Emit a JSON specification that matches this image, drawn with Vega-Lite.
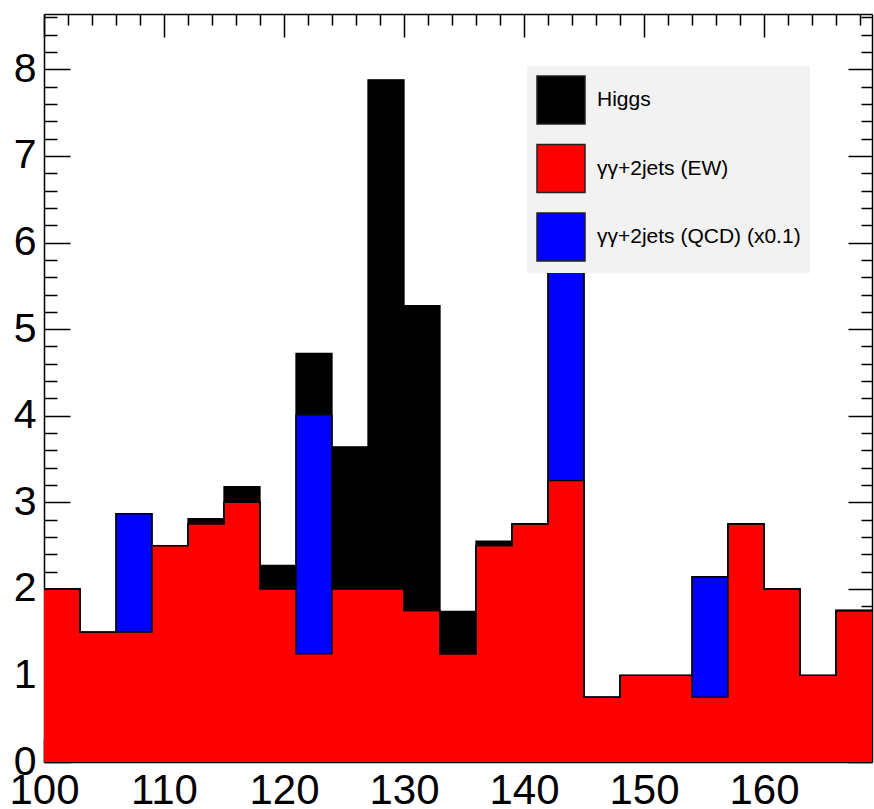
{
  "$schema": "https://vega.github.io/schema/vega-lite/v6.json",
  "width": 828,
  "height": 748,
  "autosize": {"type": "none"},
  "padding": {"left": 44, "top": 14, "right": 2, "bottom": 47},
  "background": "white",
  "config": {
    "view": {"stroke": null},
    "axis": {"title": null, "grid": false, "tickColor": "black", "tickWidth": 1.5, "domainColor": "black", "domainWidth": 1.5, "zindex": 1, "labelFont": "Liberation Sans", "labelFontSize": 41, "labelColor": "black", "labelFlush": false, "labelOverlap": false}
  },
  "data": {"values": [
    {"lo":100,"hi":103,"process":"γγ+2jets (EW)","layer":1,"n":2.0},
    {"lo":103,"hi":106,"process":"γγ+2jets (EW)","layer":1,"n":1.5},
    {"lo":106,"hi":109,"process":"γγ+2jets (EW)","layer":1,"n":1.5},
    {"lo":109,"hi":112,"process":"γγ+2jets (EW)","layer":1,"n":2.5},
    {"lo":112,"hi":115,"process":"γγ+2jets (EW)","layer":1,"n":2.75},
    {"lo":115,"hi":118,"process":"γγ+2jets (EW)","layer":1,"n":3.0},
    {"lo":118,"hi":121,"process":"γγ+2jets (EW)","layer":1,"n":2.0},
    {"lo":121,"hi":124,"process":"γγ+2jets (EW)","layer":1,"n":1.25},
    {"lo":124,"hi":127,"process":"γγ+2jets (EW)","layer":1,"n":2.0},
    {"lo":127,"hi":130,"process":"γγ+2jets (EW)","layer":1,"n":2.0},
    {"lo":130,"hi":133,"process":"γγ+2jets (EW)","layer":1,"n":1.75},
    {"lo":133,"hi":136,"process":"γγ+2jets (EW)","layer":1,"n":1.25},
    {"lo":136,"hi":139,"process":"γγ+2jets (EW)","layer":1,"n":2.5},
    {"lo":139,"hi":142,"process":"γγ+2jets (EW)","layer":1,"n":2.75},
    {"lo":142,"hi":145,"process":"γγ+2jets (EW)","layer":1,"n":3.25},
    {"lo":145,"hi":148,"process":"γγ+2jets (EW)","layer":1,"n":0.75},
    {"lo":148,"hi":151,"process":"γγ+2jets (EW)","layer":1,"n":1.0},
    {"lo":151,"hi":154,"process":"γγ+2jets (EW)","layer":1,"n":1.0},
    {"lo":154,"hi":157,"process":"γγ+2jets (EW)","layer":1,"n":0.75},
    {"lo":157,"hi":160,"process":"γγ+2jets (EW)","layer":1,"n":2.75},
    {"lo":160,"hi":163,"process":"γγ+2jets (EW)","layer":1,"n":2.0},
    {"lo":163,"hi":166,"process":"γγ+2jets (EW)","layer":1,"n":1.0},
    {"lo":166,"hi":169,"process":"γγ+2jets (EW)","layer":1,"n":1.75},
    {"lo":100,"hi":103,"process":"γγ+2jets (QCD) (x0.1)","layer":2,"n":0},
    {"lo":103,"hi":106,"process":"γγ+2jets (QCD) (x0.1)","layer":2,"n":0},
    {"lo":106,"hi":109,"process":"γγ+2jets (QCD) (x0.1)","layer":2,"n":1.37},
    {"lo":109,"hi":112,"process":"γγ+2jets (QCD) (x0.1)","layer":2,"n":0},
    {"lo":112,"hi":115,"process":"γγ+2jets (QCD) (x0.1)","layer":2,"n":0},
    {"lo":115,"hi":118,"process":"γγ+2jets (QCD) (x0.1)","layer":2,"n":0},
    {"lo":118,"hi":121,"process":"γγ+2jets (QCD) (x0.1)","layer":2,"n":0},
    {"lo":121,"hi":124,"process":"γγ+2jets (QCD) (x0.1)","layer":2,"n":2.76},
    {"lo":124,"hi":127,"process":"γγ+2jets (QCD) (x0.1)","layer":2,"n":0},
    {"lo":127,"hi":130,"process":"γγ+2jets (QCD) (x0.1)","layer":2,"n":0},
    {"lo":130,"hi":133,"process":"γγ+2jets (QCD) (x0.1)","layer":2,"n":0},
    {"lo":133,"hi":136,"process":"γγ+2jets (QCD) (x0.1)","layer":2,"n":0},
    {"lo":136,"hi":139,"process":"γγ+2jets (QCD) (x0.1)","layer":2,"n":0},
    {"lo":139,"hi":142,"process":"γγ+2jets (QCD) (x0.1)","layer":2,"n":0},
    {"lo":142,"hi":145,"process":"γγ+2jets (QCD) (x0.1)","layer":2,"n":4.1},
    {"lo":145,"hi":148,"process":"γγ+2jets (QCD) (x0.1)","layer":2,"n":0},
    {"lo":148,"hi":151,"process":"γγ+2jets (QCD) (x0.1)","layer":2,"n":0},
    {"lo":151,"hi":154,"process":"γγ+2jets (QCD) (x0.1)","layer":2,"n":0},
    {"lo":154,"hi":157,"process":"γγ+2jets (QCD) (x0.1)","layer":2,"n":1.39},
    {"lo":157,"hi":160,"process":"γγ+2jets (QCD) (x0.1)","layer":2,"n":0},
    {"lo":160,"hi":163,"process":"γγ+2jets (QCD) (x0.1)","layer":2,"n":0},
    {"lo":163,"hi":166,"process":"γγ+2jets (QCD) (x0.1)","layer":2,"n":0},
    {"lo":166,"hi":169,"process":"γγ+2jets (QCD) (x0.1)","layer":2,"n":0},
    {"lo":100,"hi":103,"process":"Higgs","layer":3,"n":0},
    {"lo":103,"hi":106,"process":"Higgs","layer":3,"n":0},
    {"lo":106,"hi":109,"process":"Higgs","layer":3,"n":0},
    {"lo":109,"hi":112,"process":"Higgs","layer":3,"n":0},
    {"lo":112,"hi":115,"process":"Higgs","layer":3,"n":0.06},
    {"lo":115,"hi":118,"process":"Higgs","layer":3,"n":0.18},
    {"lo":118,"hi":121,"process":"Higgs","layer":3,"n":0.27},
    {"lo":121,"hi":124,"process":"Higgs","layer":3,"n":0.71},
    {"lo":124,"hi":127,"process":"Higgs","layer":3,"n":1.64},
    {"lo":127,"hi":130,"process":"Higgs","layer":3,"n":5.88},
    {"lo":130,"hi":133,"process":"Higgs","layer":3,"n":3.52},
    {"lo":133,"hi":136,"process":"Higgs","layer":3,"n":0.49},
    {"lo":136,"hi":139,"process":"Higgs","layer":3,"n":0.05},
    {"lo":139,"hi":142,"process":"Higgs","layer":3,"n":0},
    {"lo":142,"hi":145,"process":"Higgs","layer":3,"n":0},
    {"lo":145,"hi":148,"process":"Higgs","layer":3,"n":0},
    {"lo":148,"hi":151,"process":"Higgs","layer":3,"n":0},
    {"lo":151,"hi":154,"process":"Higgs","layer":3,"n":0},
    {"lo":154,"hi":157,"process":"Higgs","layer":3,"n":0},
    {"lo":157,"hi":160,"process":"Higgs","layer":3,"n":0},
    {"lo":160,"hi":163,"process":"Higgs","layer":3,"n":0},
    {"lo":163,"hi":166,"process":"Higgs","layer":3,"n":0},
    {"lo":166,"hi":169,"process":"Higgs","layer":3,"n":0}
  ]},
  "transform": [
    {"stack": "n", "groupby": ["lo"], "sort": [{"field": "layer", "order": "ascending"}], "as": ["y0", "y1"]}
  ],
  "layer": [
    {
      "transform": [{"filter": "datum.n > 0"}],
      "mark": {"type": "rect"},
      "encoding": {
        "x": {"field": "lo", "type": "quantitative", "scale": {"domain": [100, 169], "nice": false, "zero": false},
              "axis": {"orient": "bottom", "values": [100, 110, 120, 130, 140, 150, 160], "tickSize": -23, "labelPadding": 31, "labelFontSize": 42, "domain": true}},
        "x2": {"field": "hi"},
        "y": {"field": "y0", "type": "quantitative", "scale": {"domain": [0, 8.64], "nice": false, "zero": false},
              "axis": {"orient": "left", "values": [0, 1, 2, 3, 4, 5, 6, 7, 8], "tickSize": -26, "labelPadding": 34, "domain": true}},
        "y2": {"field": "y1"},
        "color": {"field": "process", "type": "nominal",
                  "scale": {"domain": ["Higgs", "γγ+2jets (EW)", "γγ+2jets (QCD) (x0.1)"], "range": ["#000000", "#ff0000", "#0000ff"]},
                  "legend": {"orient": "none", "legendX": 483, "legendY": 52, "title": null, "symbolType": "square", "symbolSize": 2304,
                             "symbolStrokeColor": "#222222", "symbolStrokeWidth": 1.5, "symbolOpacity": 1, "labelFontSize": 21,
                             "labelFont": "Liberation Sans", "labelColor": "black", "labelOffset": 11, "rowPadding": 14.5, "padding": 9,
                             "fillColor": "#f2f2f2", "labelLimit": 400, "zindex": 3}}
      }
    },
    {
      "transform": [{"fold": ["lo", "hi"], "as": ["key", "xv"]}],
      "mark": {"type": "line", "color": "black", "strokeWidth": 1.3, "interpolate": "linear"},
      "encoding": {
        "x": {"field": "xv", "type": "quantitative", "scale": {"domain": [100, 169], "nice": false, "zero": false}, "axis": null},
        "y": {"field": "y1", "type": "quantitative", "scale": {"domain": [0, 8.64], "nice": false, "zero": false}, "axis": null},
        "detail": {"field": "process", "type": "nominal"},
        "order": [{"field": "lo", "type": "quantitative", "sort": "ascending"}, {"field": "key", "sort": "descending"}]
      }
    },
    {
      "mark": {"type": "point", "opacity": 0},
      "encoding": {
        "x": {"field": "lo", "type": "quantitative", "scale": {"domain": [100, 169], "nice": false, "zero": false},
              "axis": {"orient": "bottom", "values": [102, 104, 106, 108, 112, 114, 116, 118, 122, 124, 126, 128, 132, 134, 136, 138, 142, 144, 146, 148, 152, 154, 156, 158, 162, 164, 166, 168], "tickSize": -11, "labels": false, "domain": false}},
        "y": {"field": "y1", "type": "quantitative", "scale": {"domain": [0, 8.64], "nice": false, "zero": false},
              "axis": {"orient": "left", "values": [0.2, 0.4, 0.6, 0.8, 1.2, 1.4, 1.6, 1.8, 2.2, 2.4, 2.6, 2.8, 3.2, 3.4, 3.6, 3.8, 4.2, 4.4, 4.6, 4.8, 5.2, 5.4, 5.6, 5.8, 6.2, 6.4, 6.6, 6.8, 7.2, 7.4, 7.6, 7.8, 8.2, 8.4, 8.6], "tickSize": -13, "labels": false, "domain": false}}
      }
    },
    {
      "mark": {"type": "point", "opacity": 0},
      "encoding": {
        "x": {"field": "lo", "type": "quantitative", "scale": {"domain": [100, 169], "nice": false, "zero": false},
              "axis": {"orient": "top", "values": [100, 110, 120, 130, 140, 150, 160], "tickSize": -23, "labels": false, "domain": true}},
        "y": {"field": "y1", "type": "quantitative", "scale": {"domain": [0, 8.64], "nice": false, "zero": false},
              "axis": {"orient": "right", "values": [0, 1, 2, 3, 4, 5, 6, 7, 8], "tickSize": -24, "labels": false, "domain": true}}
      }
    },
    {
      "mark": {"type": "point", "opacity": 0},
      "encoding": {
        "x": {"field": "lo", "type": "quantitative", "scale": {"domain": [100, 169], "nice": false, "zero": false},
              "axis": {"orient": "top", "values": [102, 104, 106, 108, 112, 114, 116, 118, 122, 124, 126, 128, 132, 134, 136, 138, 142, 144, 146, 148, 152, 154, 156, 158, 162, 164, 166, 168], "tickSize": -11, "labels": false, "domain": false}},
        "y": {"field": "y1", "type": "quantitative", "scale": {"domain": [0, 8.64], "nice": false, "zero": false},
              "axis": {"orient": "right", "values": [0.2, 0.4, 0.6, 0.8, 1.2, 1.4, 1.6, 1.8, 2.2, 2.4, 2.6, 2.8, 3.2, 3.4, 3.6, 3.8, 4.2, 4.4, 4.6, 4.8, 5.2, 5.4, 5.6, 5.8, 6.2, 6.4, 6.6, 6.8, 7.2, 7.4, 7.6, 7.8, 8.2, 8.4, 8.6], "tickSize": -11, "labels": false, "domain": false}}
      }
    }
  ],
  "resolve": {"scale": {"x": "independent", "y": "independent"}}
}
